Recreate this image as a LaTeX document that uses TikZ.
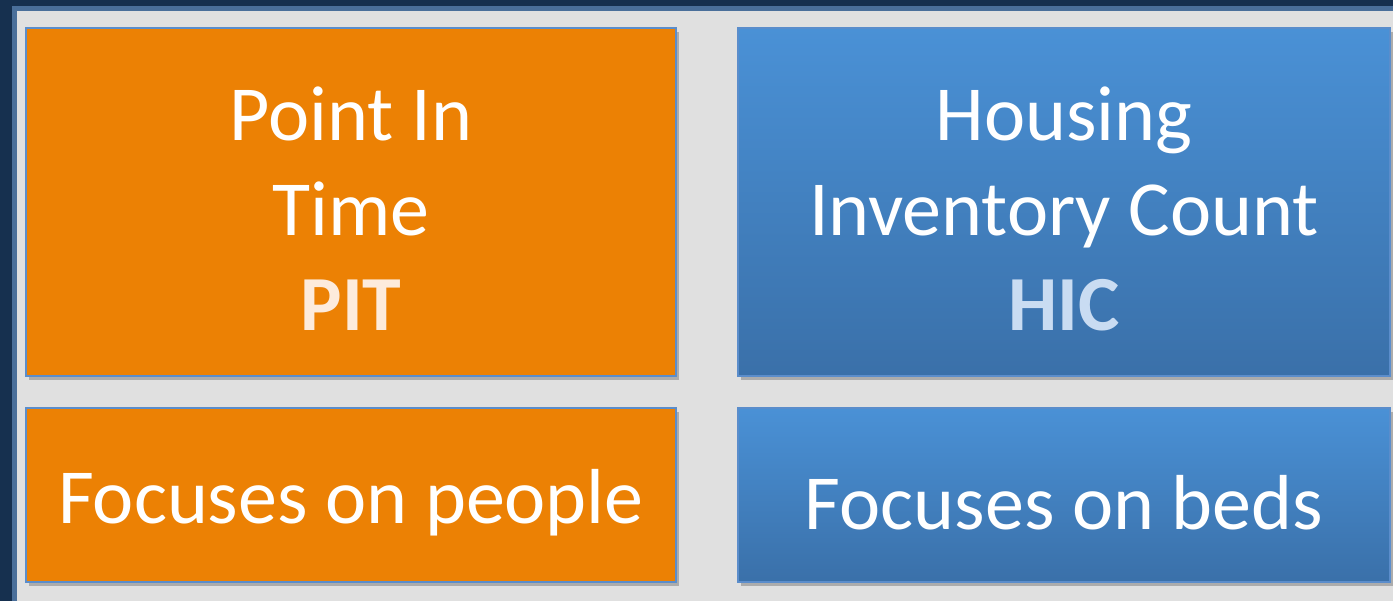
\documentclass[tikz,border=0pt]{standalone}
\usepackage{fontspec}
\setmainfont{Carlito}
\usetikzlibrary{shadows}
\definecolor{navy}{HTML}{16304F}
\definecolor{frameblue}{HTML}{4A6F9A}
\definecolor{panel}{HTML}{E0E0E0}
\definecolor{orangebox}{HTML}{EC8104}
\definecolor{bluetop}{HTML}{4A91D6}
\definecolor{bluebot}{HTML}{3A70A9}
\definecolor{edgeblue}{HTML}{5B8DCB}
\definecolor{pitcol}{HTML}{FDEBDC}
\definecolor{hiccol}{HTML}{C9DCF2}
\tikzset{
  card/.style={draw=edgeblue, line width=1.5pt,
    drop shadow={shadow xshift=3pt, shadow yshift=-4pt, opacity=0.35, fill=black!70}},
  orangecard/.style={card, fill=orangebox},
  bluecard/.style={card, top color=bluetop, bottom color=bluebot},
  lbl/.style={text=white, align=center, font=\fontsize{78}{95}\selectfont, inner sep=0pt}
}
\begin{document}
\begin{tikzpicture}[x=1pt,y=-1pt]
\useasboundingbox (0,0) rectangle (1393,601);
\fill[navy] (0,0) rectangle (1393,601);
\fill[frameblue] (12,6) rectangle (1393,601);
\fill[panel] (17,11) rectangle (1393,601);
\path[orangecard] (26,28) rectangle (676,376);
\path[bluecard] (738,28) rectangle (1390,376);
\path[orangecard] (26,408) rectangle (676,582);
\path[bluecard] (738,408) rectangle (1390,582);
\node[lbl] (pit) at (351,209) {Point In\\Time\\\textbf{\textcolor{pitcol}{PIT}}};
\node[lbl] (hic) at (1064,209) {Housing\\Inventory Count\\\textbf{\textcolor{hiccol}{HIC}}};
\node[lbl] (people) at (351,503) {Focuses on people};
\node[lbl] (beds) at (1064,503) {Focuses on beds};
\end{tikzpicture}
\end{document}
